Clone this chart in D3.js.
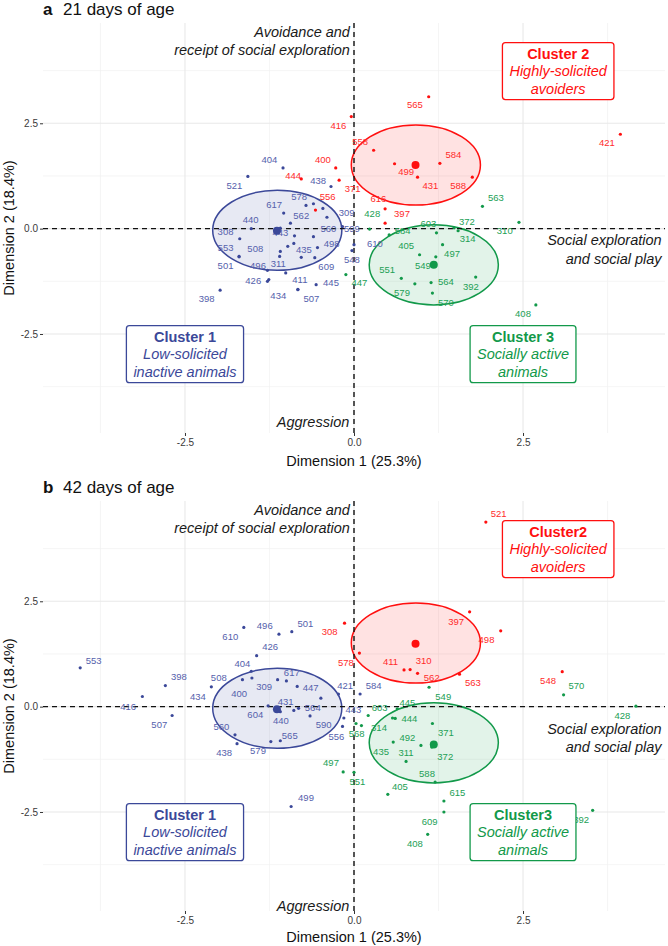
<!DOCTYPE html>
<html><head><meta charset="utf-8">
<script src="https://cdn.jsdelivr.net/npm/d3@7"></script>
<style>
body{margin:0;background:#fff;}
text{font-family:"Liberation Sans",Arial,Helvetica,sans-serif;}
</style>
</head><body>
<svg id="c" width="668" height="946"></svg>
<script>
// ---------------- DATA ----------------
const xDomain = [-4.6, 4.6];
const yDomain = [-4.85, 4.88];
const majorTicks = [-2.5, 0, 2.5];
const minorTicks = [-3.75, -1.25, 1.25, 3.75];
const panelLetters = ["a", "b"];
const panelTitles = ["21 days of age", "42 days of age"];
const xAxisTitle = "Dimension 1 (25.3%)";
const yAxisTitle = "Dimension 2 (18.4%)";

// [label, x, y, labelX, labelY]  (label "" = unlabelled point)
const a1 = [
 ["404",-1.05,1.44,-1.25,1.63],["521",-1.57,1.24,-1.77,1.02],["438",-0.34,1.00,-0.53,1.14],
 ["617",-1.04,0.37,-1.18,0.57],["578",-0.71,0.55,-0.81,0.76],["",-0.60,0.59],["",-0.46,0.48],
 ["309",-0.40,0.27,-0.11,0.39],["562",-0.94,0.13,-0.78,0.31],["440",-1.52,0.0,-1.53,0.21],
 ["443",-1.09,0.01,-1.09,-0.10],["308",-1.69,-0.24,-1.90,-0.08],["560",-0.60,-0.19,-0.38,0.0],
 ["",-0.88,-0.17],["498",-0.54,-0.45,-0.33,-0.35],["",-0.89,-0.35],["",-0.98,-0.42],
 ["435",-0.78,-0.68,-0.74,-0.51],["609",-0.58,-0.69,-0.41,-0.91],["553",-1.70,-0.66,-1.90,-0.45],
 ["508",-1.09,-0.54,-1.46,-0.47],["",-1.10,-0.66],["501",-1.70,-0.67,-1.90,-0.88],
 ["496",-1.28,-0.99,-1.42,-0.87],["311",-1.01,-1.05,-1.12,-0.84],["426",-1.28,-1.25,-1.49,-1.23],
 ["434",-1.26,-1.21,-1.12,-1.60],["411",-0.83,-1.44,-0.80,-1.22],["507",-0.83,-1.45,-0.63,-1.66],
 ["445",-0.56,-1.33,-0.34,-1.28],["398",-1.98,-1.46,-2.18,-1.66],["599",-0.17,0.05,-0.03,0.0],
 ["610",0.0,-0.38,0.31,-0.35],["548",-0.03,-0.52,-0.03,-0.73]
];
const a2 = [
 ["565",1.105,3.13,0.90,2.93],["416",-0.04,2.66,-0.23,2.44],["421",3.94,2.24,3.74,2.03],
 ["558",0.29,1.86,0.09,2.07],["584",1.27,1.55,1.47,1.75],["499",0.60,1.54,0.77,1.36],
 ["431",0.94,1.22,1.13,1.02],["588",1.75,1.22,1.54,1.02],["400",-0.27,1.44,-0.46,1.63],
 ["444",-0.78,1.18,-0.90,1.25],["371",-0.22,1.15,-0.02,0.94],["556",-0.57,0.44,-0.39,0.76],
 ["616",0.46,0.47,0.36,0.71],["397",0.46,0.13,0.71,0.35]
];
const a3 = [
 ["563",1.90,0.53,2.10,0.73],["428",0.23,-0.01,0.27,0.35],["372",1.48,0.02,1.67,0.17],
 ["314",1.54,-0.05,1.68,-0.24],["310",2.44,0.15,2.23,-0.06],["603",1.22,-0.10,1.10,0.12],
 ["584",0.52,-0.15,0.72,-0.04],["405",0.97,-0.62,0.77,-0.40],["497",1.31,-0.38,1.45,-0.59],
 ["549",1.21,-0.67,1.02,-0.88],["551",0.70,-1.18,0.49,-0.98],["579",0.90,-1.31,0.71,-1.52],
 ["564",1.14,-1.28,1.36,-1.25],["392",1.80,-1.15,1.73,-1.38],["570",1.16,-1.53,1.36,-1.76],
 ["408",2.69,-1.81,2.50,-2.02],["447",-0.12,-1.09,0.08,-1.29]
];
const b1 = [
 ["553",-4.05,0.92,-3.85,1.10],["398",-2.79,0.50,-2.59,0.71],["416",-3.13,0.24,-3.34,0.01],
 ["507",-2.69,-0.21,-2.88,-0.43],["434",-2.11,0.47,-2.31,0.24],["508",-1.65,0.64,-2.00,0.68],
 ["404",-1.52,0.84,-1.65,1.02],["400",-1.51,0.68,-1.70,0.30],["426",-1.44,1.21,-1.24,1.42],
 ["610",-1.63,1.88,-1.83,1.66],["496",-1.11,1.72,-1.32,1.92],["501",-0.92,1.78,-0.72,1.98],
 ["617",-1.00,0.61,-0.92,0.81],["309",-1.13,0.64,-1.33,0.48],["447",-0.84,0.48,-0.64,0.45],
 ["",-0.49,0.20],["431",-0.89,-0.09,-1.01,0.12],["604",-1.27,0.02,-1.46,-0.20],
 ["440",-1.09,-0.12,-1.08,-0.33],["564",-0.82,-0.04,-0.61,-0.02],["590",-0.65,-0.22,-0.45,-0.43],
 ["560",-1.76,-0.67,-1.96,-0.47],["438",-1.73,-0.88,-1.92,-1.10],["579",-1.23,-0.83,-1.42,-1.04],
 ["565",-1.09,-0.81,-0.95,-0.68],["421",-0.23,0.30,-0.13,0.50],["584",0.09,0.30,0.29,0.50],
 ["443",-0.15,-0.27,-0.01,-0.07],["556",-0.17,-0.47,-0.26,-0.71],["499",-0.93,-2.37,-0.71,-2.17]
];
const b2 = [
 ["521",1.95,4.38,2.14,4.58],["397",1.71,2.25,1.51,2.02],["498",2.17,1.80,1.96,1.58],
 ["308",-0.14,1.98,-0.36,1.77],["578",0.08,1.27,-0.12,1.05],["411",0.74,0.87,0.54,1.07],
 ["310",0.83,0.88,1.03,1.09],["562",0.94,0.79,1.15,0.68],["563",1.56,0.77,1.76,0.56],
 ["548",3.08,0.83,2.87,0.62]
];
const b3 = [
 ["570",3.10,0.28,3.29,0.50],["428",4.17,0.01,3.97,-0.21],["549",1.11,0.46,1.32,0.24],
 ["445",0.64,-0.05,0.79,0.10],["603",0.21,-0.21,0.38,-0.02],["444",0.61,-0.28,0.82,-0.28],
 ["",0.57,-0.27],["314",0.11,-0.45,0.37,-0.49],["568",0.03,-0.40,0.04,-0.63],
 ["371",1.16,-0.40,1.36,-0.61],["492",0.99,-0.92,0.79,-0.73],["435",0.58,-0.84,0.40,-1.08],
 ["311",0.77,-1.30,0.77,-1.10],["372",1.15,-0.96,1.35,-1.18],["588",1.20,-1.79,1.08,-1.59],
 ["497",-0.16,-1.55,-0.34,-1.34],["551",0.0,-1.56,0.05,-1.79],["405",0.50,-2.08,0.68,-1.89],
 ["615",1.33,-2.24,1.53,-2.04],["609",1.33,-2.50,1.12,-2.74],["408",1.09,-3.03,0.90,-3.25],
 ["392",3.53,-2.46,3.36,-2.68]
];
const centroidsA = [[-1.14,-0.05],[0.91,1.51],[1.18,-0.86]];
const centroidsB = [[-1.14,-0.06],[0.91,1.49],[1.18,-0.90]];
const ellipseCenters = [[-1.135,-0.04],[0.915,1.51],[1.18,-0.86]];
const ellipseRadius = [0.955, 0.95];
const clusterNamesA = ["Cluster 1","Cluster 2","Cluster 3"];
const clusterNamesB = ["Cluster 1","Cluster2","Cluster3"];
const clusterDescs = [["Low-solicited","inactive animals"],["Highly-solicited","avoiders"],["Socially active","animals"]];
const clusterBoxCenters = [[-2.5,-2.98],[3.02,3.74],[2.5,-2.98]];
const axisNotes = [["Avoidance and","receipt of social exploration"],["Social exploration","and social play"],["Aggression"]];

// ---------------- STYLE / LAYOUT ----------------
const colors = ["#3B4899", "#FF0F0F", "#12994A"];
const labelColors = ["#5561AC", "#FF2B2B", "#22A055"];
const L = 43, R = 665, PH = 410, tops = [23, 501], xTitleGap = [33, 31];
const svg = d3.select("#c");
const x = d3.scaleLinear().domain(xDomain).range([L, R]);

const panels = [
  {pts:[a1,a2,a3], cent:centroidsA, names:clusterNamesA,
   notes:{top:[-0.06,[4.67,4.23]], right:[4.55,[-0.26,-0.71]], bottom:[-0.07,[-4.58]]}},
  {pts:[b1,b2,b3], cent:centroidsB, names:clusterNamesB,
   notes:{top:[-0.06,[4.66,4.24]], right:[4.55,[-0.53,-0.96]], bottom:[-0.07,[-4.72]]}}
];

panels.forEach((p, i) => {
  const top = tops[i];
  const y = d3.scaleLinear().domain(yDomain).range([top + PH, top]);
  const g = svg.append("g");

  // grid
  g.selectAll(null).data(minorTicks).enter().append("line")
    .attr("x1", d => x(d)).attr("x2", d => x(d)).attr("y1", top).attr("y2", top + PH)
    .attr("stroke", "#F0F0F0").attr("stroke-width", 0.7);
  g.selectAll(null).data(minorTicks).enter().append("line")
    .attr("y1", d => y(d)).attr("y2", d => y(d)).attr("x1", L).attr("x2", R)
    .attr("stroke", "#F0F0F0").attr("stroke-width", 0.7);
  g.selectAll(null).data(majorTicks).enter().append("line")
    .attr("x1", d => x(d)).attr("x2", d => x(d)).attr("y1", top).attr("y2", top + PH)
    .attr("stroke", "#E8E8E8").attr("stroke-width", 1.1);
  g.selectAll(null).data(majorTicks).enter().append("line")
    .attr("y1", d => y(d)).attr("y2", d => y(d)).attr("x1", L).attr("x2", R)
    .attr("stroke", "#E8E8E8").attr("stroke-width", 1.1);

  // axes
  const ax = g.append("g").attr("transform", `translate(0,${top + PH})`)
    .call(d3.axisBottom(x).tickValues(majorTicks).tickFormat(d => d.toFixed(1)).tickSize(3).tickPadding(3));
  const ay = g.append("g").attr("transform", `translate(${L},0)`)
    .call(d3.axisLeft(y).tickValues(majorTicks).tickFormat(d => d.toFixed(1)).tickSize(3).tickPadding(2));
  [ax, ay].forEach(a => {
    a.select(".domain").remove();
    a.selectAll("line").attr("stroke", "#333").attr("stroke-width", 1);
    a.selectAll("text").attr("font-size", 10).attr("fill", "#3a3a3a")
      .attr("font-family", '"Liberation Sans",Arial,sans-serif');
  });

  // ellipses
  ellipseCenters.forEach((c, k) => {
    g.append("ellipse")
      .attr("cx", x(c[0])).attr("cy", y(c[1]))
      .attr("rx", x(c[0] + ellipseRadius[0]) - x(c[0]))
      .attr("ry", y(c[1]) - y(c[1] + ellipseRadius[1]))
      .attr("fill", colors[k]).attr("fill-opacity", 0.12)
      .attr("stroke", colors[k]).attr("stroke-width", 1.5);
  });

  // dashed reference lines
  g.append("line").attr("x1", x(0)).attr("x2", x(0)).attr("y1", top).attr("y2", top + PH)
    .attr("stroke", "#111").attr("stroke-width", 1.4).attr("stroke-dasharray", "5,4");
  g.append("line").attr("y1", y(0)).attr("y2", y(0)).attr("x1", L).attr("x2", R)
    .attr("stroke", "#111").attr("stroke-width", 1.4).attr("stroke-dasharray", "5,4");

  // points + labels
  p.pts.forEach((arr, k) => {
    g.selectAll(null).data(arr).enter().append("circle")
      .attr("cx", d => x(d[1])).attr("cy", d => y(d[2])).attr("r", 1.6)
      .attr("fill", colors[k]);
    g.selectAll(null).data(arr.filter(d => d[0] !== "")).enter().append("text")
      .attr("x", d => x(d[3])).attr("y", d => y(d[4])).attr("dy", "0.35em")
      .attr("text-anchor", "middle").attr("font-size", 9.5).attr("fill", labelColors[k])
      .text(d => d[0]);
  });

  // centroids
  g.selectAll(null).data(p.cent).enter().append("circle")
    .attr("cx", d => x(d[0])).attr("cy", d => y(d[1])).attr("r", 4)
    .attr("fill", (d, k) => colors[k]);

  // axis notes
  const note = (lines, xx, ys) => {
    lines.forEach((t, j) => {
      g.append("text").attr("x", x(xx)).attr("y", y(ys[j])).attr("dy", "0.35em")
        .attr("text-anchor", "end").attr("font-size", 14.5).attr("font-style", "italic")
        .attr("fill", "#1a1a1a").text(t);
    });
  };
  note(axisNotes[0], p.notes.top[0], p.notes.top[1]);
  note(axisNotes[1], p.notes.right[0], p.notes.right[1]);
  note(axisNotes[2], p.notes.bottom[0], p.notes.bottom[1]);

  // cluster boxes
  clusterBoxCenters.forEach((c, k) => {
    const cx = x(c[0]), cy = y(c[1]);
    const bg = g.append("g");
    const rect = bg.append("rect");
    const lines = [p.names[k]].concat(clusterDescs[k]);
    let maxW = 0;
    lines.forEach((t, j) => {
      const tx = bg.append("text").attr("x", cx).attr("y", cy + (j - 1) * 17.5).attr("dy", "0.35em")
        .attr("text-anchor", "middle").attr("font-size", 14.5)
        .attr("font-weight", j === 0 ? "bold" : "normal")
        .attr("font-style", j === 0 ? "normal" : "italic")
        .attr("fill", colors[k]).text(t);
      maxW = Math.max(maxW, tx.node().getComputedTextLength());
    });
    const w = maxW + 14, h = 57;
    rect.attr("x", cx - w / 2).attr("y", cy - h / 2).attr("width", w).attr("height", h)
      .attr("rx", 3).attr("fill", "#fff").attr("stroke", colors[k]).attr("stroke-width", 1.3);
  });

  // titles
  const t = svg.append("text").attr("x", L).attr("y", top - 8.5).attr("font-size", 17).attr("fill", "#111");
  t.append("tspan").attr("font-weight", "bold").text(panelLetters[i]);
  t.append("tspan").attr("x", 63).text(panelTitles[i]);

  svg.append("text").attr("x", x(0)).attr("y", top + PH + xTitleGap[i]).attr("text-anchor", "middle")
    .attr("font-size", 14.5).attr("fill", "#111").text(xAxisTitle);
  svg.append("text").attr("transform", `translate(13.5,${top + PH / 2}) rotate(-90)`)
    .attr("text-anchor", "middle").attr("font-size", 14.5).attr("fill", "#111").text(yAxisTitle);
});
</script>
</body></html>
